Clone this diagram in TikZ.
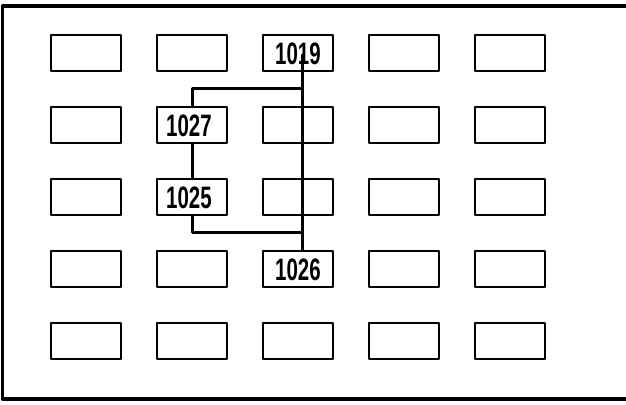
\documentclass[tikz,border=0pt]{standalone}
\usepackage{fontspec}
\setmainfont{Liberation Sans}
\usepackage{graphicx}
\usetikzlibrary{calc}

\newcommand{\stretto}[1]{\scalebox{0.66}[1]{#1}}

\begin{document}
\begin{tikzpicture}[x=1pt,y=1pt,line join=round,line cap=round,
  cella/.style={draw,line width=2.6pt,minimum width=70pt,minimum height=36pt,inner sep=0pt},
  etich/.style={inner sep=0pt,font=\fontsize{31}{31}\selectfont\bfseries},
  filo/.style={line width=3pt}]

  \useasboundingbox (0,0) rectangle (626,404);

  % ---- la cornice, aperta a destra -----------------------------------------
  \draw[line width=3.4pt] (630,398) -- (2.5,398) -- (2.5,5) -- (630,5);

  % ---- la griglia di celle 5x5 ---------------------------------------------
  \foreach \r in {1,...,5}{
    \foreach \c in {1,...,5}{
      \node[cella] (b\r\c) at ({86+106*(\c-1)},{351-72*(\r-1)}) {};
    }
  }

  % ---- i numeri nelle quattro celle usate ----------------------------------
  \node[etich] (n1019) at ([yshift=-1pt]b13) {\stretto{1019}};
  \node[etich] (n1027) at ([xshift=-3pt,yshift=-1pt]b22) {\stretto{1027}};
  \node[etich] (n1025) at ([xshift=-3pt,yshift=-1pt]b32) {\stretto{1025}};
  \node[etich] (n1026) at ([yshift=-1pt]b43) {\stretto{1026}};

  % ---- punti di giunzione sul tronco ---------------------------------------
  \coordinate (alto)  at ([xshift=4pt]$(b13.south)!.5!(b23.north)$);
  \coordinate (basso) at ([xshift=4pt]$(b33.south)!.5!(b43.north)$);

  % ---- i collegamenti ------------------------------------------------------
  \draw[filo] ([xshift=4pt,yshift=-2pt]b13.center) -- ([xshift=4pt]b43.north);
  \draw[filo] (b22.north) |- (alto);
  \draw[filo] (b22.south) -- (b32.north);
  \draw[filo] (b32.south) |- (basso);

\end{tikzpicture}
\end{document}
